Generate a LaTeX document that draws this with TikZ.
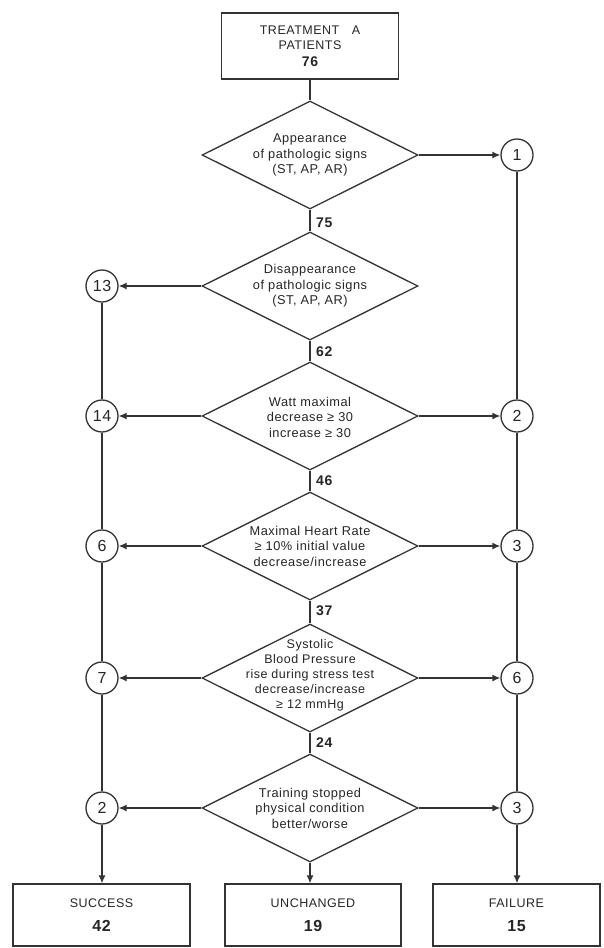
\documentclass[tikz,border=0pt]{standalone}
\usepackage{fontspec}
\setmainfont{Liberation Sans}[LetterSpace=4]
\usetikzlibrary{shapes.geometric,arrows.meta}
\begin{document}
\begin{tikzpicture}[x=1pt,y=-1pt,
 line/.style={draw=black!80, line width=1.3pt},
 arr/.style={line, -{Latex[length=8pt,width=7pt]}},
 dia/.style={diamond, line, minimum width=216pt, minimum height=108pt, inner sep=0pt},
 dtext/.style={align=center, font=\fontsize{12.8}{15.5}\selectfont, text=black!85, inner sep=0pt},
 circ/.style={circle, line, minimum size=32pt, inner sep=0pt, text=black!85, font=\fontsize{16}{16}\selectfont},
 num/.style={font=\bfseries\fontsize{14}{14}\selectfont, text=black!85, anchor=west, inner sep=0pt},
 boxn/.style={rectangle, line, align=center, text=black!85, font=\fontsize{12.5}{15}\selectfont, inner sep=0pt}]
\useasboundingbox (0,0) rectangle (604,948);
\fill[white] (0,0) rectangle (604,948);

% top box
\node[boxn, minimum width=177pt, minimum height=66pt] (top) at (310,46)
  {TREATMENT\quad A\\PATIENTS\\[2pt]{\bfseries\fontsize{14}{14}\selectfont 76}};

% diamonds
\node[dia] (d1) at (310,155) {};
\node[dia] (d2) at (310,286) {};
\node[dia] (d3) at (310,416) {};
\node[dia] (d4) at (310,546) {};
\node[dia] (d5) at (310,678) {};
\node[dia] (d6) at (310,808) {};

\node[dtext] (t1) at (310,155) {Appearance\\of pathologic signs\\(ST, AP, AR)};
\node[dtext] (t2) at (310,286) {Disappearance\\of pathologic signs\\(ST, AP, AR)};
\node[dtext] (t3) at (310,417) {Watt maximal\\decrease ≥ 30\\increase ≥ 30};
\node[dtext] (t4) at (310,546) {Maximal Heart Rate\\≥ 10\% initial value\\decrease/increase};
\node[dtext, font=\fontsize{12.5}{15}\selectfont] (t5) at (310,675) {Systolic\\Blood Pressure\\rise during stress test\\decrease/increase\\≥ 12 mmHg};
\node[dtext] (t6) at (310,808) {Training stopped\\physical condition\\better/worse};

% count labels
\node[num] (n75) at (316,223) {75};
\node[num] (n62) at (316,352) {62};
\node[num] (n46) at (316,481) {46};
\node[num] (n37) at (316,611) {37};
\node[num] (n24) at (316,743) {24};

% circles
\node[circ] (r1) at (517,155) {1};
\node[circ] (l13) at (102,286) {13};
\node[circ] (l14) at (102,416) {14};
\node[circ] (r2) at (517,416) {2};
\node[circ] (l6) at (102,546) {6};
\node[circ] (r3) at (517,546) {3};
\node[circ] (l7) at (102,678) {7};
\node[circ] (r6) at (517,678) {6};
\node[circ] (l2) at (102,808) {2};
\node[circ] (r3b) at (517,808) {3};

% bottom boxes
\node[boxn, minimum width=177pt, minimum height=62pt] (succ) at (101.5,915)
  {SUCCESS\\[9pt]{\bfseries\fontsize{16}{16}\selectfont 42}};
\node[boxn, minimum width=176pt, minimum height=62pt] (unch) at (313,915)
  {UNCHANGED\\[9pt]{\bfseries\fontsize{16}{16}\selectfont 19}};
\node[boxn, minimum width=167pt, minimum height=62pt] (fail) at (516.5,915)
  {FAILURE\\[9pt]{\bfseries\fontsize{16}{16}\selectfont 15}};

% main spine
\draw[line] (top.south) -- (d1.north);
\draw[line] (d1.south) -- (d2.north);
\draw[line] (d2.south) -- (d3.north);
\draw[line] (d3.south) -- (d4.north);
\draw[line] (d4.south) -- (d5.north);
\draw[line] (d5.south) -- (d6.north);
\draw[arr] (d6.south) -- (d6.south |- unch.north);

% branches
\draw[arr] (d1.east) -- (r1);
\draw[arr] (d2.west) -- (l13);
\draw[arr] (d3.west) -- (l14);
\draw[arr] (d3.east) -- (r2);
\draw[arr] (d4.west) -- (l6);
\draw[arr] (d4.east) -- (r3);
\draw[arr] (d5.west) -- (l7);
\draw[arr] (d5.east) -- (r6);
\draw[arr] (d6.west) -- (l2);
\draw[arr] (d6.east) -- (r3b);

% side columns
\draw[line] (l13) -- (l14) -- (l6) -- (l7) -- (l2);
\draw[arr] (l2) -- (l2 |- succ.north);
\draw[line] (r1) -- (r2) -- (r3) -- (r6) -- (r3b);
\draw[arr] (r3b) -- (r3b |- fail.north);
\end{tikzpicture}
\end{document}
